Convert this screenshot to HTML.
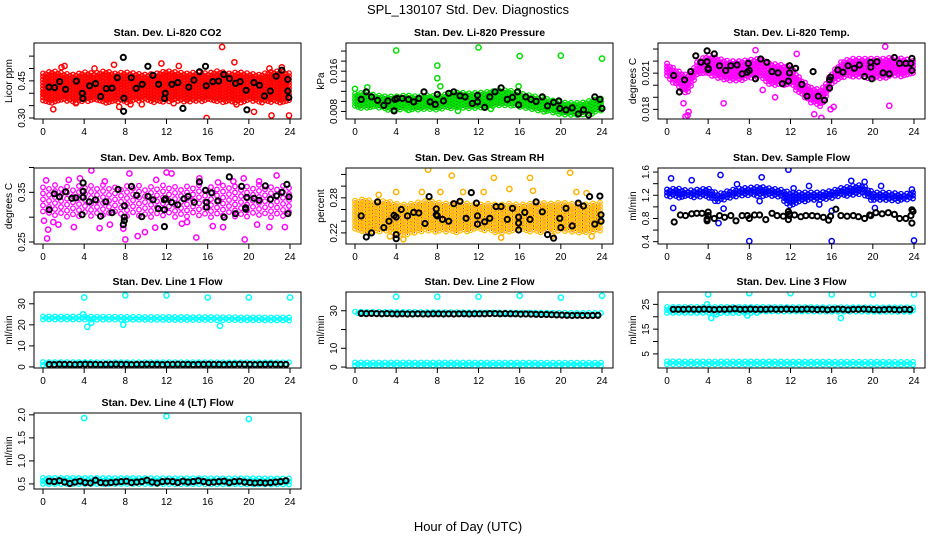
<!DOCTYPE html>
<html><head><meta charset="utf-8"><title>SPL_130107 Std. Dev. Diagnostics</title>
<style>
html,body{margin:0;padding:0;background:#fff;}
svg{display:block;font-family:"Liberation Sans",Arial,sans-serif;}
</style></head>
<body>
<svg id="chart" width="936" height="540" viewBox="0 0 936 540" xmlns="http://www.w3.org/2000/svg">
<rect x="0" y="0" width="936" height="540" fill="#fff"/>
<text x="468" y="14" text-anchor="middle" font-size="13">SPL_130107  Std. Dev. Diagnostics</text>
<text x="468" y="531" text-anchor="middle" font-size="13">Hour of Day (UTC)</text>
</svg>
<script>
// ---------- data ----------
const xTicks = [0,4,8,12,16,20,24];
const lineTimes = [0.6,1.1,1.6,2.1,2.6,3.1,3.6,4.1,4.6,5.1,5.6,6.1,6.6,7.1,7.6,8.1,8.6,9.1,9.6,10.1,10.6,11.1,11.6,12.1,12.6,13.1,13.6,14.1,14.6,15.1,15.6,16.1,16.6,17.1,17.6,18.1,18.6,19.1,19.6,20.1,20.6,21.1,21.6,22.1,22.6,23.1,23.6];

// CO2
const co2Lo = [0.37,0.36,0.365,0.36,0.365,0.37,0.36,0.365,0.36,0.365,0.37,0.36,0.365,0.37,0.36,0.365,0.37,0.36,0.365,0.36,0.37,0.36,0.365,0.36,0.37];
const co2Hi = [0.48,0.49,0.48,0.475,0.485,0.48,0.49,0.48,0.485,0.48,0.475,0.48,0.49,0.485,0.48,0.485,0.48,0.49,0.48,0.485,0.48,0.475,0.485,0.49,0.48];
const co2OutH = [0.1,1.0,1.8,2.1,6.9,7.4,11.5,13.2,15.9,17.4,18.6,20.5,22.2,23.9,0.3,3.2,9.6,18.8,5.0,22.0,23.2,12.7,8.5];
const co2OutV = [0.40,0.335,0.505,0.51,0.515,0.345,0.52,0.51,0.30,0.587,0.525,0.325,0.31,0.31,0.46,0.36,0.355,0.355,0.50,0.50,0.505,0.36,0.355];
const co2BlkH = [0.58,1.13,1.62,2.2,3.24,3.82,3.88,4.53,5.11,5.6,6.15,6.7,7.22,7.86,7.83,7.8,8.58,9.06,9.64,10.19,10.68,11.23,11.81,11.88,12.52,13.1,13.59,14.17,14.66,15.21,15.79,15.86,16.5,17.06,17.57,18.12,18.71,19.16,19.74,19.81,20.49,21.04,21.52,22.1,22.65,23.2,23.79,23.79,23.88];
const co2BlkV = [0.425,0.423,0.447,0.416,0.449,0.40,0.379,0.43,0.439,0.387,0.419,0.421,0.463,0.38,0.327,0.545,0.463,0.42,0.436,0.509,0.472,0.436,0.379,0.40,0.436,0.443,0.339,0.425,0.453,0.487,0.509,0.43,0.447,0.449,0.476,0.459,0.44,0.447,0.412,0.333,0.443,0.432,0.389,0.409,0.469,0.493,0.456,0.409,0.383];

// Pressure
const presLo = [0.0088,0.0085,0.0086,0.0083,0.0082,0.0084,0.0083,0.0084,0.0083,0.0086,0.0086,0.0085,0.0087,0.0088,0.0089,0.0090,0.0088,0.0084,0.0080,0.0077,0.0072,0.0070,0.0071,0.0075,0.0080];
const presHi = [0.0115,0.0118,0.0112,0.0110,0.0110,0.0112,0.0110,0.0112,0.0110,0.0115,0.0118,0.0116,0.0117,0.0119,0.0122,0.0122,0.0116,0.0112,0.0108,0.0103,0.0098,0.0097,0.0097,0.0102,0.0106];
const presOutH = [4.0,12.0,16.0,20.0,24.0,8.0,8.0,8.3,10.0,0.0,1.2,15.9,5.2,13.2];
const presOutV = [0.0201,0.0207,0.0190,0.0191,0.0185,0.0171,0.0146,0.0130,0.0081,0.0125,0.0128,0.0130,0.0083,0.0085];
const presBlkH = [0.6,1.1,1.6,2.2,2.8,3.2,3.8,3.9,4.1,4.6,5.2,5.7,6.2,6.7,7.3,7.8,8.0,8.6,9.1,9.6,10.2,10.7,11.4,11.9,11.9,12.6,13.1,13.6,14.2,14.8,15.3,15.8,15.9,16.6,17.1,17.6,18.2,18.7,19.3,19.8,19.9,20.5,21.1,21.7,22.2,22.7,23.3,23.8,24.0];
const presBlkV = [0.0104,0.0119,0.0109,0.0102,0.0092,0.0101,0.0081,0.0104,0.0106,0.0106,0.0104,0.0099,0.0106,0.0119,0.0099,0.0094,0.0114,0.0101,0.0116,0.0119,0.0111,0.0109,0.0096,0.0112,0.0099,0.0088,0.0109,0.0119,0.0127,0.0104,0.0108,0.0119,0.0093,0.0109,0.0104,0.0100,0.0109,0.0091,0.0098,0.0101,0.0086,0.0083,0.0087,0.0075,0.0083,0.0073,0.0109,0.0104,0.0086];

// Li-820 Temp
const tempLo = [0.0207,0.0198,0.0192,0.0208,0.0208,0.0205,0.0203,0.0203,0.0205,0.0206,0.0200,0.0200,0.0200,0.0192,0.0185,0.0182,0.0200,0.0206,0.0207,0.0206,0.0205,0.0205,0.0207,0.0207,0.0210];
const tempHi = [0.0218,0.0212,0.0208,0.0220,0.0225,0.0222,0.0220,0.0220,0.0221,0.0222,0.0218,0.0217,0.0215,0.0205,0.0198,0.0196,0.0210,0.0220,0.0222,0.0222,0.0222,0.0222,0.0223,0.0222,0.0220];
const tempOutH = [1.8,2.0,2.1,1.6,5.5,8.6,12.6,15.0,15.9,21.2,21.6,9.3,10.5,16.2,14.3];
const tempOutV = [0.0174,0.0175,0.0178,0.0185,0.0185,0.0229,0.0226,0.0173,0.0180,0.0232,0.0183,0.0196,0.0190,0.0182,0.0176];
const tempBlkH = [0.65,1.2,1.7,2.3,2.8,3.3,3.9,3.9,4.0,4.0,4.6,5.1,5.7,6.2,6.8,7.3,7.8,7.9,8.0,8.6,9.1,9.7,10.2,10.8,11.2,11.8,11.9,11.9,12.5,13.1,13.6,14.2,14.7,15.3,15.8,15.8,15.9,16.6,17.1,17.6,18.2,18.7,19.2,19.8,19.8,19.9,20.4,21.0,21.6,22.1,22.6,23.2,23.7,23.8,23.8];
const tempBlkV = [0.02081,0.01944,0.02045,0.02113,0.02244,0.0219,0.02285,0.02195,0.0214,0.0213,0.0226,0.02162,0.02122,0.02162,0.02168,0.02094,0.02108,0.02181,0.02122,0.02053,0.02217,0.0219,0.02113,0.02102,0.02013,0.02034,0.02102,0.02162,0.0214,0.02007,0.01909,0.02113,0.01909,0.01876,0.02045,0.01977,0.02067,0.02127,0.02108,0.02162,0.0214,0.02168,0.02072,0.0219,0.02149,0.02053,0.02195,0.02102,0.02094,0.0223,0.02181,0.02181,0.02181,0.02122,0.02222];

// Amb Box Temp
const ambLo = [0.30,0.295,0.30,0.298,0.30,0.30,0.297,0.30,0.298,0.30,0.30,0.297,0.30,0.30,0.298,0.30,0.30,0.297,0.30,0.30,0.298,0.30,0.30,0.297,0.30];
const ambHi = [0.36,0.365,0.362,0.36,0.365,0.362,0.365,0.36,0.362,0.365,0.36,0.362,0.365,0.36,0.362,0.365,0.36,0.362,0.365,0.36,0.362,0.365,0.36,0.362,0.365];
const ambOutH = [0.1,0.4,0.5,0.3,4.7,8.4,12.0,12.5,9.9,7.8,8.0,9.2,14.9,19.6,19.5,22.7,5.5,10.9,23.5,1.5,3.0,6.5,11.0,13.5,15.2,17.5,21.0,2.5,16.5,18.5,20.8,1.0,3.6,6.0,14.0,17.0,22.0];
const ambOutV = [0.293,0.257,0.275,0.374,0.394,0.388,0.39,0.388,0.27,0.277,0.255,0.262,0.259,0.255,0.378,0.384,0.278,0.279,0.28,0.285,0.28,0.285,0.375,0.287,0.378,0.28,0.372,0.375,0.282,0.372,0.285,0.29,0.378,0.372,0.29,0.37,0.28];
const ambBlkH = [0.6,1.1,1.6,2.2,2.8,3.2,3.8,3.9,3.9,3.9,4.5,5.1,5.6,6.1,6.7,7.3,7.9,7.9,7.9,7.8,8.6,9.1,9.6,10.2,10.7,11.2,11.8,11.8,11.8,11.9,12.5,13.1,13.7,14.1,14.7,15.2,15.8,15.9,15.9,16.4,17.0,17.6,18.1,18.7,19.3,19.7,19.7,19.8,20.5,21.0,21.6,22.1,22.7,23.2,23.7,23.8,23.9];
const ambBlkV = [0.315,0.347,0.341,0.351,0.338,0.339,0.305,0.352,0.369,0.34,0.331,0.335,0.302,0.331,0.309,0.356,0.293,0.30,0.323,0.285,0.362,0.344,0.301,0.342,0.335,0.317,0.335,0.315,0.281,0.337,0.33,0.325,0.337,0.342,0.33,0.371,0.354,0.33,0.32,0.349,0.333,0.30,0.381,0.307,0.362,0.319,0.316,0.34,0.338,0.334,0.363,0.336,0.343,0.35,0.366,0.307,0.341];

// Gas Stream RH
const rhLo = [0.222,0.218,0.222,0.22,0.218,0.216,0.22,0.222,0.22,0.222,0.22,0.222,0.224,0.222,0.22,0.222,0.224,0.222,0.22,0.222,0.224,0.222,0.22,0.222,0.224];
const rhHi = [0.275,0.278,0.272,0.275,0.27,0.268,0.272,0.275,0.272,0.27,0.272,0.27,0.268,0.27,0.268,0.27,0.268,0.27,0.272,0.27,0.272,0.27,0.268,0.27,0.272];
const rhOutH = [7.1,9.4,17.0,20.9,13.5,4.7,3.4,23.0,4.0,6.5,8.3,12.5,15.0,17.3,21.5,22.5,2.3,10.5,14.2,19.2];
const rhOutV = [0.328,0.318,0.314,0.323,0.314,0.209,0.214,0.214,0.29,0.29,0.29,0.29,0.295,0.292,0.29,0.288,0.285,0.29,0.212,0.215];
const rhBlkH = [0.6,1.1,1.6,2.2,2.8,3.3,3.8,4.0,4.0,4.0,4.5,5.1,5.7,6.2,6.8,7.2,7.9,7.9,8.0,8.5,9.1,9.6,10.2,10.8,11.3,11.8,11.9,11.9,12.6,13.1,13.7,14.2,14.8,15.3,15.9,15.9,15.9,16.5,17.0,17.6,18.2,18.7,19.3,19.9,20.0,20.5,21.1,21.7,22.2,22.8,23.3,23.8,23.9,23.9];
const rhBlkV = [0.249,0.213,0.22,0.273,0.229,0.24,0.25,0.217,0.21,0.247,0.26,0.249,0.255,0.254,0.236,0.282,0.261,0.251,0.249,0.243,0.24,0.27,0.274,0.245,0.289,0.271,0.249,0.235,0.239,0.245,0.265,0.265,0.243,0.262,0.247,0.237,0.225,0.255,0.243,0.273,0.256,0.217,0.211,0.245,0.229,0.262,0.232,0.271,0.266,0.282,0.235,0.283,0.251,0.24];

// Sample Flow
const sfLo = [1.17,1.15,1.16,1.16,1.15,1.06,1.14,1.17,1.18,1.17,1.18,1.17,0.98,1.08,1.10,1.10,1.15,1.18,1.19,1.20,1.10,1.10,1.10,1.10,1.12];
const sfHi = [1.30,1.32,1.28,1.30,1.32,1.22,1.28,1.32,1.33,1.35,1.32,1.30,1.25,1.25,1.25,1.25,1.28,1.33,1.36,1.38,1.25,1.25,1.24,1.22,1.25];
const sfOutH = [0.4,0.6,2.4,5.2,5.0,5.5,6.8,9.2,9.0,11.8,12.3,13.8,8.0,16.0,24.0,16.0,17.9,19.2,23.8,20.2,20.8,14.8];
const sfOutV = [1.49,0.98,1.46,1.55,0.72,0.97,1.39,1.51,1.10,1.64,1.32,1.36,0.41,0.41,0.42,0.93,1.45,1.43,1.30,0.98,1.36,1.04];
const sfBlkH = [0.7,1.3,1.8,2.4,2.9,3.4,3.9,3.9,4.0,4.0,4.6,5.1,5.6,6.2,6.7,7.3,7.8,8.0,8.5,9.0,9.6,10.2,10.7,11.3,11.8,11.8,11.9,11.9,12.4,13.0,13.5,14.1,14.6,15.2,15.7,15.9,16.4,16.9,17.5,18.1,18.6,19.2,19.7,19.8,20.3,20.9,21.5,22.1,22.6,23.2,23.7,23.8,23.8,23.9];
const sfBlkV = [0.74,0.86,0.85,0.88,0.89,0.89,0.79,0.76,0.85,0.91,0.80,0.85,0.82,0.85,0.76,0.85,0.85,0.80,0.86,0.86,0.78,0.89,0.85,0.84,0.92,0.78,0.88,0.85,0.86,0.83,0.85,0.85,0.84,0.82,0.77,0.84,0.96,0.85,0.84,0.85,0.83,0.80,0.86,0.85,0.90,0.88,0.90,0.87,0.80,0.80,0.85,0.95,0.72,0.92];

// Line 1
const l1HighLo = [22.0,22.0]; const l1HighHi = [24.0,23.5];
const l1LowLo = [0.8,0.8]; const l1LowHi = [2.3,2.2];
const l1OutH = [4,8,12,16,20,24,3.9,4.3,4.7,7.8,17.2];
const l1OutV = [33,34,34,33,33,33,25,19,21,20,19.5];
const l1BlkV = [1.2,1.1,1.3,1.2,1.2,1.1,1.2,1.3,1.2,1.2,1.1,1.2,1.2,1.3,1.2,1.2,1.1,1.2,1.2,1.3,1.2,1.2,1.1,1.2,1.2,1.3,1.2,1.2,1.1,1.2,1.2,1.3,1.2,1.2,1.1,1.2,1.2,1.3,1.2,1.2,1.1,1.2,1.2,1.3,1.2,1.2,1.2];

// Line 2
const l2HighLo = [28.0,27.5]; const l2HighHi = [29.5,28.8];
const l2LowLo = [0.5,0.5]; const l2LowHi = [2.5,2.3];
const l2OutH = [4,8,12,16,20,24];
const l2OutV = [37.5,37.5,37.5,38,37,38];
const l2BlkV = [28.6,28.5,28.6,28.5,28.4,28.5,28.4,28.3,28.4,28.3,28.3,28.4,28.3,28.3,28.4,28.4,28.3,28.4,28.3,28.4,28.4,28.3,28.4,28.4,28.4,28.5,28.5,28.4,28.5,28.4,28.4,28.2,28.3,28.2,28.1,28.0,28.0,27.9,27.8,27.7,27.6,27.5,27.6,27.5,27.5,27.5,27.6];

// Line 3
const l3HighLo = [21.5,21.5]; const l3HighHi = [24.0,23.8];
const l3LowLo = [0.3,0.3]; const l3LowHi = [2.0,1.8];
const l3OutH = [4,8,12,16,20,24,3.9,4.3,7.8,16.9,4.8];
const l3OutV = [29,29.5,29.5,29,29,29,25,19.5,20.5,19.5,21];
const l3BlkV = [23.0,23.0,23.0,23.1,23.0,23.0,23.1,23.0,22.9,23.0,23.0,23.1,23.2,23.0,23.0,23.1,23.0,23.0,23.0,23.1,23.0,23.0,23.1,23.0,23.0,23.0,23.1,23.0,22.9,23.0,22.8,23.0,23.1,23.0,22.8,23.0,23.0,23.1,23.0,22.9,22.8,22.9,23.0,22.9,22.8,23.0,22.9];

// Line 4
const l4Lo = [0.48,0.48]; const l4Hi = [0.63,0.62];
const l4OutH = [4,12,20];
const l4OutV = [1.93,1.97,1.91];
const l4BlkV = [0.56,0.55,0.57,0.54,0.51,0.54,0.56,0.53,0.52,0.58,0.53,0.52,0.53,0.54,0.55,0.56,0.53,0.54,0.55,0.58,0.54,0.52,0.55,0.56,0.55,0.53,0.56,0.54,0.55,0.57,0.55,0.53,0.54,0.55,0.56,0.53,0.55,0.56,0.54,0.53,0.52,0.53,0.52,0.53,0.54,0.55,0.57];

// ---------- layout ----------
const svg = document.getElementById('chart');
const NS = 'http://www.w3.org/2000/svg';
const rowTops = [43,168,292,413];
const BOX_H = 76, BOX_W = 267, SPAN = 247;

function mk(tag, attrs, parent){
  const e = document.createElementNS(NS, tag);
  for (const k in attrs) e.setAttribute(k, attrs[k]);
  (parent||svg).appendChild(e);
  return e;
}
function interp(arr, h){
  const n = arr.length - 1;
  const t = Math.max(0, Math.min(24, h)) / 24 * n;
  const i = Math.min(n - 1, Math.floor(t));
  const f = t - i;
  return arr[i] * (1 - f) + arr[i + 1] * f;
}

function panel(cfg){
  const x0 = 43 + 312 * cfg.col;
  const top = rowTops[cfg.row];
  const left = x0 - 9;
  const X = h => x0 + h / 24 * SPAN;
  const Y = v => top + (cfg.ylim[1] - v) / (cfg.ylim[1] - cfg.ylim[0]) * BOX_H;
  const g = mk('g', {});
  
  
  const clipId = 'clip-' + cfg.name;
  const cp = mk('clipPath', {id: clipId}, g);
  mk('rect', {x: left, y: top, width: BOX_W, height: BOX_H}, cp);
  const plot = mk('g', {'clip-path': 'url(#' + clipId + ')'}, g);

  (cfg.clouds || []).forEach(c => {
    const cg = mk('g', {fill: 'none', stroke: c.color, 'stroke-width': 1.3}, plot);
    
    
    let col = 0;
    for (let px = X(0); px <= X(24) + 0.1; px += c.step, col++){
      const h = (px - x0) / SPAN * 24;
      const yHi = Y(interp(c.hi, h)), yLo = Y(interp(c.lo, h));
      const off = (col % 2) * c.step / 2;
      for (let py = yHi + off; py <= yLo; py += c.step){
        mk('circle', {cx: px.toFixed(1), cy: py.toFixed(1), r: 2.3}, cg);
        if (c.dot) mk('rect', {x: (px - 0.5).toFixed(1), y: (py - 0.5).toFixed(1), width: 1, height: 1, fill: c.dot, stroke: 'none'}, cg);
      }
    }
  });
  if (cfg.outH){
    const og = mk('g', {fill: 'none', stroke: cfg.outColor, 'stroke-width': 1.5}, plot);
    
    
    cfg.outH.forEach((h, i) => {
      const c = mk('circle', {cx: X(h).toFixed(1), cy: Y(cfg.outV[i]).toFixed(1), r: 2.6}, og);
      
      
    });
  }
  if (cfg.blkH){
    const bg = mk('g', {fill: 'none', stroke: '#000', 'stroke-width': 2}, plot);
    
    
    cfg.blkH.forEach((h, i) => {
      const c = mk('circle', {cx: X(h).toFixed(1), cy: Y(cfg.blkV[i]).toFixed(1), r: 2.6}, bg);
      
      
    });
  }
  const box = mk('rect', {x: left, y: top, width: BOX_W, height: BOX_H, fill: 'none', stroke: '#000', 'stroke-width': 1}, g);
  
  
  const t = mk('text', {x: left + BOX_W / 2, y: top - 7, 'text-anchor': 'middle', 'font-size': 10.5, 'font-weight': 'bold'}, g);
  t.textContent = cfg.title;
  
  
  const xa = mk('g', {stroke: '#000', 'stroke-width': 1}, g);
  
  
  mk('line', {x1: X(0), x2: X(24), y1: top + BOX_H, y2: top + BOX_H}, xa);
  xTicks.forEach(v => {
    mk('line', {x1: X(v), x2: X(v), y1: top + BOX_H, y2: top + BOX_H + 5}, xa);
    const tl = mk('text', {x: X(v), y: top + BOX_H + 16, 'text-anchor': 'middle', 'font-size': 10, stroke: 'none', fill: '#000'}, xa);
    tl.textContent = v;
    
    
  });
  const ya = mk('g', {stroke: '#000', 'stroke-width': 1}, g);
  
  
  const yt = cfg.yticks;
  mk('line', {x1: left, x2: left, y1: Y(yt[0]), y2: Y(yt[yt.length - 1])}, ya);
  yt.forEach((v, i) => {
    mk('line', {x1: left - 5, x2: left, y1: Y(v), y2: Y(v)}, ya);
    if (cfg.ylabels[i]){
      const yy = Y(v);
      const tl = mk('text', {x: left - 9, y: yy, 'text-anchor': 'middle', 'font-size': 10, stroke: 'none', fill: '#000', transform: 'rotate(-90 ' + (left - 9) + ' ' + yy + ')'}, ya);
      tl.textContent = cfg.ylabels[i];
      
      
    }
  });
  const yl = mk('text', {x: left - 22, y: top + BOX_H / 2, 'text-anchor': 'middle', 'font-size': 10, transform: 'rotate(-90 ' + (left - 22) + ' ' + (top + BOX_H / 2) + ')'}, g);
  yl.textContent = cfg.ylab;
  
  
}

panel({name:'co2', col:0, row:0, title:'Stan. Dev. Li-820 CO2', ylab:'Licor ppm', ylim:[0.296,0.603],
  yticks:[0.30,0.35,0.40,0.45,0.50,0.55], ylabels:['0.30','','','0.45','',''],
  clouds:[{lo:co2Lo, hi:co2Hi, color:'#ff0000', step:3}], outH:co2OutH, outV:co2OutV, outColor:'#ff0000', blkH:co2BlkH, blkV:co2BlkV});
panel({name:'pressure', col:1, row:0, title:'Stan. Dev. Li-820 Pressure', ylab:'kPa', ylim:[0.0065,0.0216],
  yticks:[0.008,0.010,0.012,0.014,0.016,0.018,0.020], ylabels:['0.008','','','','0.016','',''],
  clouds:[{lo:presLo, hi:presHi, color:'#00e000', step:3, dot:'#004000'}], outH:presOutH, outV:presOutV, outColor:'#00e000', blkH:presBlkH, blkV:presBlkV});
panel({name:'li820-temp', col:2, row:0, title:'Stan. Dev. Li-820 Temp.', ylab:'degrees C', ylim:[0.0172,0.0235],
  yticks:[0.018,0.019,0.020,0.021,0.022,0.023], ylabels:['0.018','','','0.021','',''],
  clouds:[{lo:tempLo, hi:tempHi, color:'#ff00ff', step:3}], outH:tempOutH, outV:tempOutV, outColor:'#ff00ff', blkH:tempBlkH, blkV:tempBlkV});
panel({name:'amb-box-temp', col:0, row:1, title:'Stan. Dev. Amb. Box Temp.', ylab:'degrees C', ylim:[0.246,0.399],
  yticks:[0.25,0.30,0.35,0.40], ylabels:['0.25','','0.35',''],
  clouds:[{lo:ambLo, hi:ambHi, color:'#ff00ff', step:6}], outH:ambOutH, outV:ambOutV, outColor:'#ff00ff', blkH:ambBlkH, blkV:ambBlkV});
panel({name:'gas-stream-rh', col:1, row:1, title:'Stan. Dev. Gas Stream RH', ylab:'percent', ylim:[0.201,0.331],
  yticks:[0.22,0.24,0.26,0.28,0.30,0.32], ylabels:['0.22','','','0.28','',''],
  clouds:[{lo:rhLo, hi:rhHi, color:'#ffc000', step:3.5, dot:'#ff0000'}], outH:rhOutH, outV:rhOutV, outColor:'#ffb000', blkH:rhBlkH, blkV:rhBlkV});
panel({name:'sample-flow', col:2, row:1, title:'Stan. Dev. Sample Flow', ylab:'ml/min', ylim:[0.36,1.67],
  yticks:[0.4,0.6,0.8,1.0,1.2,1.4,1.6], ylabels:['0.4','','0.8','','1.2','','1.6'],
  clouds:[{lo:sfLo, hi:sfHi, color:'#0000ff', step:3}], outH:sfOutH, outV:sfOutV, outColor:'#0000ff', blkH:sfBlkH, blkV:sfBlkV});
panel({name:'line1-flow', col:0, row:2, title:'Stan. Dev. Line 1 Flow', ylab:'ml/min', ylim:[-0.5,35.6],
  yticks:[0,10,20,30], ylabels:['0','10','20','30'],
  clouds:[{lo:l1HighLo, hi:l1HighHi, color:'#00ffff', step:3},{lo:l1LowLo, hi:l1LowHi, color:'#00ffff', step:3}],
  outH:l1OutH, outV:l1OutV, outColor:'#00ffff', blkH:lineTimes, blkV:l1BlkV});
panel({name:'line2-flow', col:1, row:2, title:'Stan. Dev. Line 2 Flow', ylab:'ml/min', ylim:[-0.5,40],
  yticks:[0,10,20,30], ylabels:['0','10','','30'],
  clouds:[{lo:l2HighLo, hi:l2HighHi, color:'#00ffff', step:3},{lo:l2LowLo, hi:l2LowHi, color:'#00ffff', step:3}],
  outH:l2OutH, outV:l2OutV, outColor:'#00ffff', blkH:lineTimes, blkV:l2BlkV});
panel({name:'line3-flow', col:2, row:2, title:'Stan. Dev. Line 3 Flow', ylab:'ml/min', ylim:[-0.7,30],
  yticks:[5,10,15,20,25], ylabels:['5','','15','','25'],
  clouds:[{lo:l3HighLo, hi:l3HighHi, color:'#00ffff', step:3},{lo:l3LowLo, hi:l3LowHi, color:'#00ffff', step:3}],
  outH:l3OutH, outV:l3OutV, outColor:'#00ffff', blkH:lineTimes, blkV:l3BlkV});
panel({name:'line4-flow', col:0, row:3, title:'Stan. Dev. Line 4 (LT) Flow', ylab:'ml/min', ylim:[0.39,2.04],
  yticks:[0.5,1.0,1.5,2.0], ylabels:['0.5','1.0','1.5','2.0'],
  clouds:[{lo:l4Lo, hi:l4Hi, color:'#00ffff', step:3}],
  outH:l4OutH, outV:l4OutV, outColor:'#00ffff', blkH:lineTimes, blkV:l4BlkV});
</script>
</body></html>
